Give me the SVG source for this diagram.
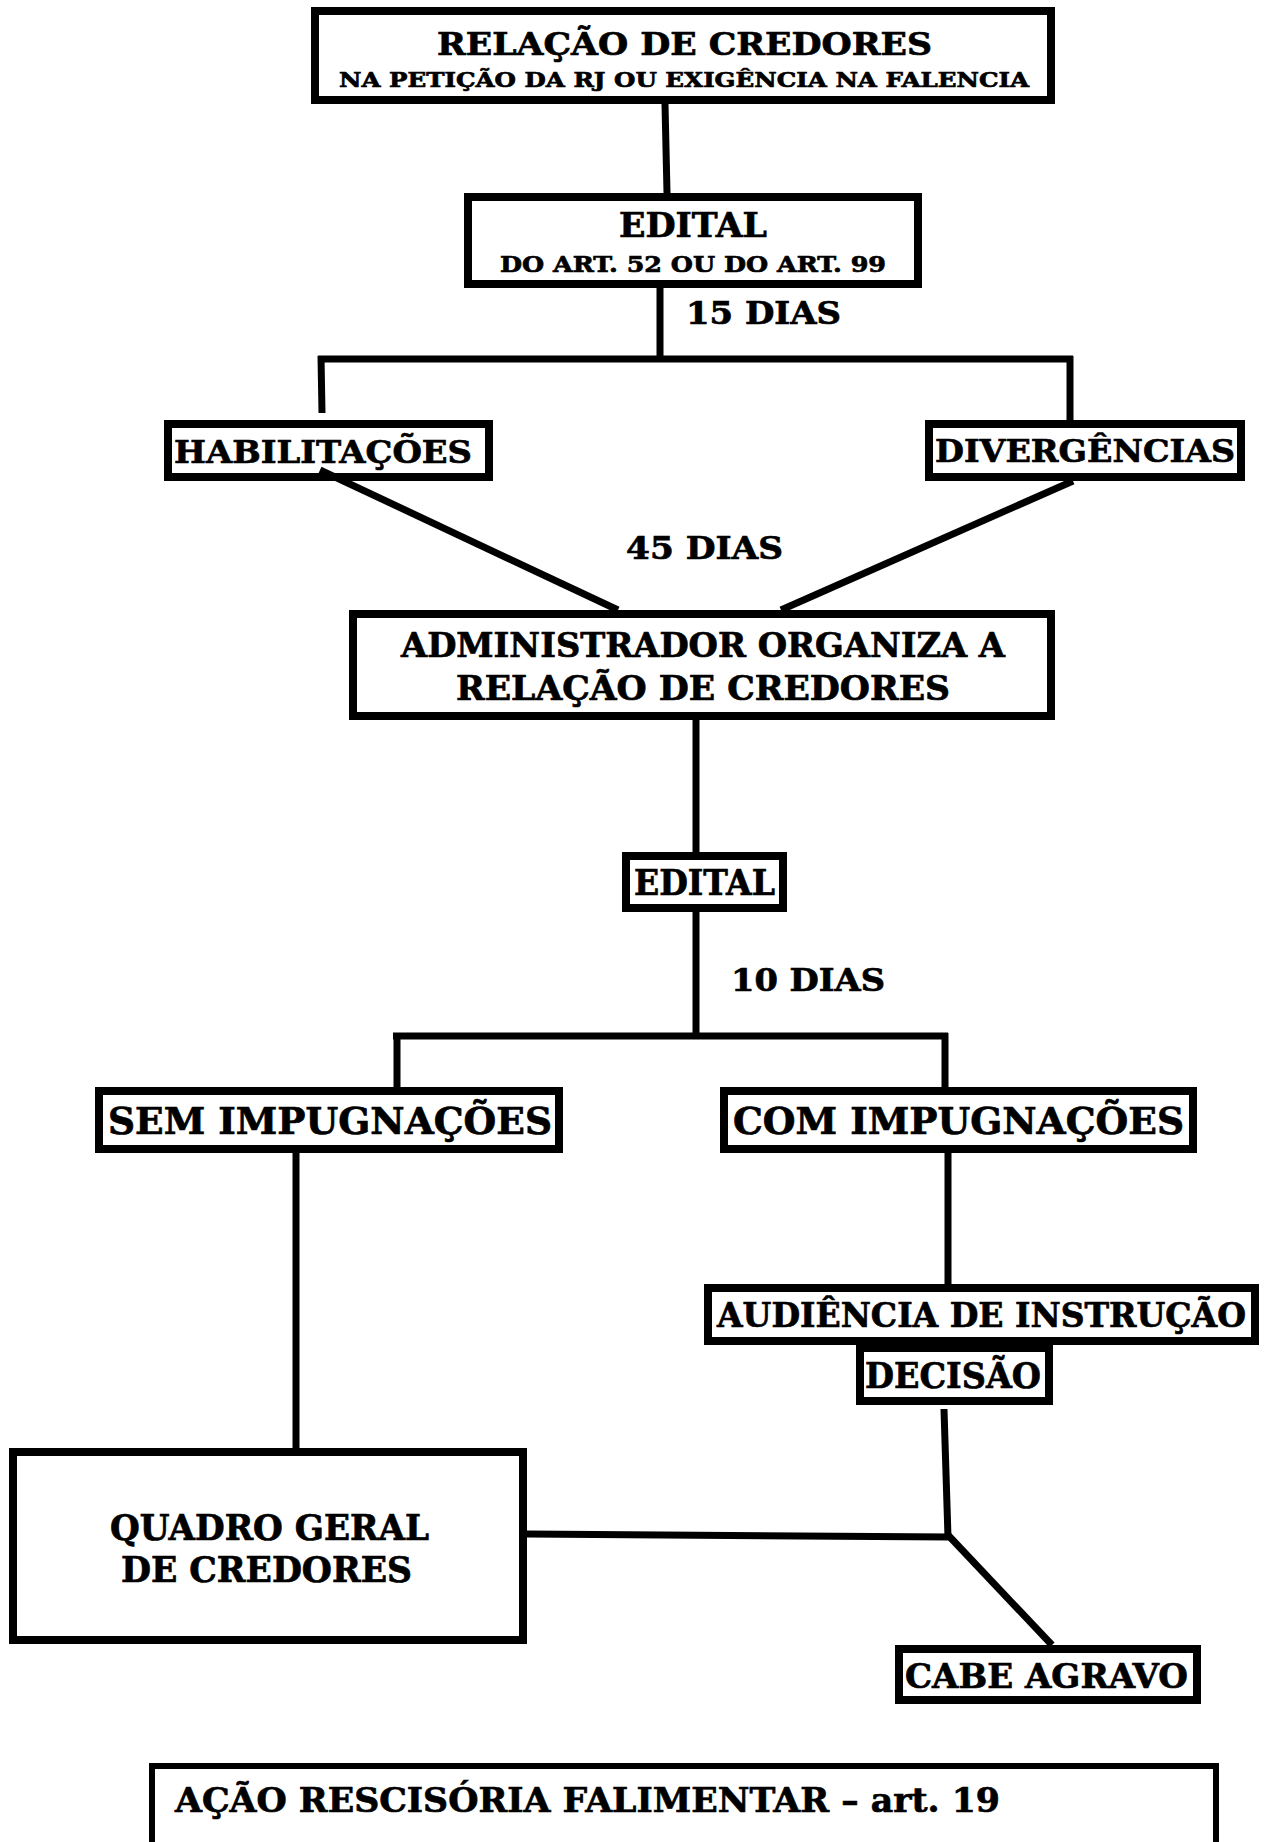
<svg xmlns="http://www.w3.org/2000/svg" width="1264" height="1842" viewBox="0 0 1264 1842">
<style>
.box{fill:#fff;stroke:#000;stroke-width:8}
.t{font-family:"DejaVu Serif","Liberation Serif",serif;font-weight:bold;fill:#000;stroke:#000;stroke-width:0.7}
.c{stroke:#000;stroke-width:7;fill:none;stroke-linecap:butt}
</style>
<rect x="0" y="0" width="1264" height="1842" fill="#fff"/>
<g id="n-relacao">
<rect class="box" x="315" y="11" width="736" height="89"/>
<text class="t" x="437" y="55" font-size="32" textLength="495" lengthAdjust="spacingAndGlyphs">RELAÇÃO DE CREDORES</text>
<text class="t" x="339" y="87" font-size="21" textLength="690" lengthAdjust="spacingAndGlyphs">NA PETIÇÃO DA RJ OU EXIGÊNCIA NA FALENCIA</text>
</g>
<g id="n-edital1">
<rect class="box" x="468" y="197" width="450" height="87"/>
<text class="t" x="619" y="237" font-size="33" textLength="148" lengthAdjust="spacingAndGlyphs">EDITAL</text>
<text class="t" x="500" y="272" font-size="23" textLength="386" lengthAdjust="spacingAndGlyphs">DO ART. 52 OU DO ART. 99</text>
</g>
<g id="l-15dias">
<text class="t" x="686" y="324" font-size="32" textLength="155" lengthAdjust="spacingAndGlyphs">15 DIAS</text>
</g>
<g id="n-habilitacoes">
<rect class="box" x="168" y="424" width="321" height="53"/>
<text class="t" x="174" y="463" font-size="32" textLength="298" lengthAdjust="spacingAndGlyphs">HABILITAÇÕES</text>
</g>
<g id="n-divergencias">
<rect class="box" x="929" y="424" width="312" height="53"/>
<text class="t" x="935" y="462" font-size="32" textLength="300" lengthAdjust="spacingAndGlyphs">DIVERGÊNCIAS</text>
</g>
<g id="l-45dias">
<text class="t" x="626" y="559" font-size="32" textLength="157" lengthAdjust="spacingAndGlyphs">45 DIAS</text>
</g>
<g id="n-administrador">
<rect class="box" x="353" y="614" width="698" height="102"/>
<text class="t" x="401" y="657" font-size="33" textLength="604" lengthAdjust="spacingAndGlyphs">ADMINISTRADOR ORGANIZA A</text>
<text class="t" x="456" y="700" font-size="33" textLength="494" lengthAdjust="spacingAndGlyphs">RELAÇÃO DE CREDORES</text>
</g>
<g id="n-edital2">
<rect class="box" x="626" y="856" width="157" height="52"/>
<text class="t" x="634" y="895" font-size="35" textLength="141" lengthAdjust="spacingAndGlyphs">EDITAL</text>
</g>
<g id="l-10dias">
<text class="t" x="731" y="991" font-size="32" textLength="154" lengthAdjust="spacingAndGlyphs">10 DIAS</text>
</g>
<g id="n-sem">
<rect class="box" x="99" y="1091" width="460" height="58"/>
<text class="t" x="108" y="1134" font-size="37" textLength="444" lengthAdjust="spacingAndGlyphs">SEM IMPUGNAÇÕES</text>
</g>
<g id="n-com">
<rect class="box" x="724" y="1091" width="469" height="58"/>
<text class="t" x="733" y="1134" font-size="37" textLength="451" lengthAdjust="spacingAndGlyphs">COM IMPUGNAÇÕES</text>
</g>
<g id="n-audiencia">
<rect class="box" x="708" y="1288" width="547" height="53"/>
<text class="t" x="717" y="1327" font-size="33" textLength="529" lengthAdjust="spacingAndGlyphs">AUDIÊNCIA DE INSTRUÇÃO</text>
</g>
<g id="n-decisao">
<rect class="box" x="860" y="1348" width="189" height="53"/>
<text class="t" x="865" y="1388" font-size="35" textLength="176" lengthAdjust="spacingAndGlyphs">DECISÃO</text>
</g>
<g id="n-quadro">
<rect class="box" x="13" y="1452" width="510" height="188"/>
<text class="t" x="110" y="1540" font-size="35" textLength="319" lengthAdjust="spacingAndGlyphs">QUADRO GERAL</text>
<text class="t" x="121" y="1582" font-size="35" textLength="291" lengthAdjust="spacingAndGlyphs">DE CREDORES</text>
</g>
<g id="n-cabe">
<rect class="box" x="899" y="1649" width="298" height="51"/>
<text class="t" x="905" y="1688" font-size="34" textLength="283" lengthAdjust="spacingAndGlyphs">CABE AGRAVO</text>
</g>
<g id="n-acao">
<rect class="box" x="152" y="1766" width="1064" height="120" style="stroke-width:6"/>
<text class="t" x="175" y="1812" font-size="34" textLength="825" lengthAdjust="spacingAndGlyphs">AÇÃO RESCISÓRIA FALIMENTAR – art. 19</text>
</g>
<g id="connectors">
<line class="c" x1="665" y1="104" x2="667" y2="193"/>
<line class="c" x1="660" y1="288" x2="660" y2="359"/>
<line class="c" x1="318" y1="359" x2="1073" y2="359"/>
<line class="c" x1="321" y1="356" x2="322" y2="413"/>
<line class="c" x1="1070" y1="356" x2="1070" y2="420"/>
<line class="c" x1="320" y1="470" x2="618" y2="610"/>
<line class="c" x1="1073" y1="481" x2="781" y2="610"/>
<line class="c" x1="696" y1="720" x2="696" y2="852"/>
<line class="c" x1="696" y1="912" x2="696" y2="1039"/>
<line class="c" x1="393" y1="1036" x2="948" y2="1036"/>
<line class="c" x1="397" y1="1033" x2="397" y2="1087"/>
<line class="c" x1="945" y1="1033" x2="945" y2="1087"/>
<line class="c" x1="296" y1="1153" x2="296" y2="1448"/>
<line class="c" x1="948" y1="1153" x2="948" y2="1284"/>
<line class="c" x1="944" y1="1409" x2="948" y2="1537"/>
<line class="c" x1="527" y1="1534" x2="950" y2="1537"/>
<line class="c" x1="948" y1="1535" x2="1052" y2="1645"/>
</g>
</svg>
